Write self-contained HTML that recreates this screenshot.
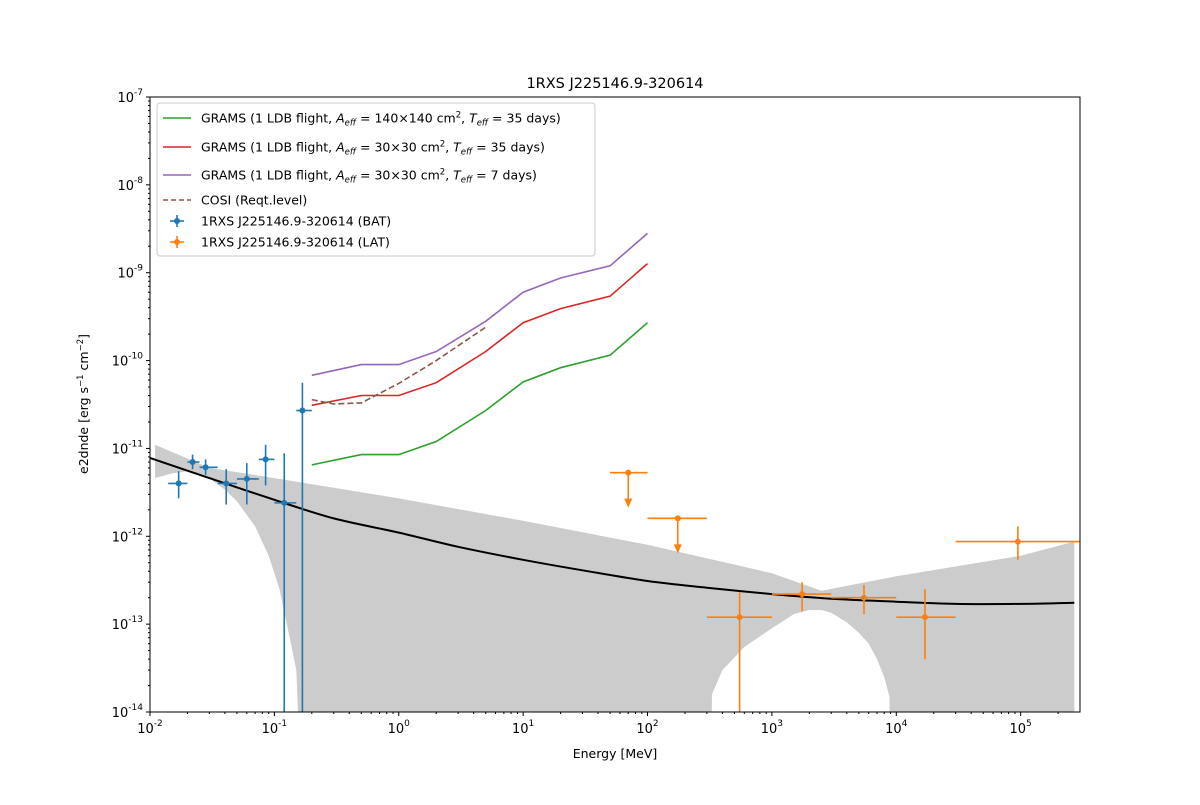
<!DOCTYPE html>
<html><head><meta charset="utf-8">
<style>
body{margin:0;background:#fff;}
svg text{font-family:"DejaVu Sans","Liberation Sans",sans-serif;}
</style></head>
<body>
<svg id="chart" width="1200" height="800" xmlns="http://www.w3.org/2000/svg"></svg>
<script>
// ---- data ----
const gramsX = [0.2,0.5,1,2,5,10,20,50,100];
const grams140 = [6.5e-12,8.5e-12,8.5e-12,1.2e-11,2.7e-11,5.7e-11,8.3e-11,1.15e-10,2.7e-10];
const grams30 = [3.1e-11,4e-11,4e-11,5.6e-11,1.27e-10,2.7e-10,3.9e-10,5.4e-10,1.27e-9];
const grams30w = [6.8e-11,9e-11,9e-11,1.27e-10,2.8e-10,6e-10,8.7e-10,1.2e-9,2.8e-9];
const cosiX = [0.2,0.3,0.5,1,2,5];
const cosiY = [3.6e-11,3.2e-11,3.3e-11,5.5e-11,1e-10,2.4e-10];
const batX = [0.017,0.022,0.028,0.041,0.06,0.085,0.12,0.168];
const batXlo = [0.014,0.02,0.025,0.035,0.05,0.075,0.1,0.15];
const batXhi = [0.02,0.025,0.035,0.05,0.075,0.1,0.15,0.2];
const batY = [4e-12,7e-12,6.1e-12,4e-12,4.5e-12,7.5e-12,2.4e-12,2.7e-11];
const batYlo = [2.7e-12,5.8e-12,5e-12,2.3e-12,2.3e-12,3.8e-12,1e-15,1e-15];
const batYhi = [5.5e-12,8.5e-12,7.5e-12,5.8e-12,6.8e-12,1.1e-11,8.8e-12,5.6e-11];
const latX = [550,1750,5500,17000,95000];
const latXlo = [300,1000,3000,10000,30000];
const latXhi = [1000,3000,10000,30000,3e5];
const latY = [1.2e-13,2.2e-13,2e-13,1.2e-13,8.7e-13];
const latYlo = [1e-15,1.4e-13,1.3e-13,4e-14,5.4e-13];
const latYhi = [2.3e-13,3e-13,2.8e-13,2.5e-13,1.3e-12];
const ulX = [70,175];
const ulXlo = [50,100];
const ulXhi = [100,300];
const ulY = [5.3e-12,1.6e-12];
const modelX = [0.01,0.03,0.1,0.3,1,3,10,30,100,300,1000,3000,1e4,3e4,1e5,2.7e5];
const modelY = [7.8e-12,4.6e-12,2.6e-12,1.6e-12,1.1e-12,7.6e-13,5.4e-13,4.1e-13,3.1e-13,2.6e-13,2.2e-13,1.95e-13,1.8e-13,1.7e-13,1.7e-13,1.75e-13];
const bandUpX = [0.011,0.03,0.1,1,10,100,1000,2500,1e4,1e5,2.7e5];
const bandUpY = [1.1e-11,6e-12,4.6e-12,2.7e-12,1.5e-12,8e-13,3.8e-13,2.4e-13,3.5e-13,6e-13,8.7e-13];
const bandLoX = [0.011,0.015,0.02,0.03,0.04,0.05,0.07,0.09,0.11,0.13,0.15,0.165,320,330,400,600,1000,1500,2000,2500,3000,4000,5000,6000,7000,8000,8800,9000,2.7e5];
const bandLoY = [4.6e-12,5.2e-12,5.5e-12,4.6e-12,3.4e-12,2.5e-12,1.3e-12,6e-13,2.5e-13,8e-14,3e-14,1e-15,1e-15,1.6e-14,3e-14,5.5e-14,9e-14,1.3e-13,1.45e-13,1.45e-13,1.35e-13,1.05e-13,8e-14,6e-14,4e-14,2.5e-14,1.5e-14,1e-15,1e-15];
const xTickExp = [-2,-1,0,1,2,3,4,5];
const yTickExp = [-14,-13,-12,-11,-10,-9,-8,-7];

// ---- axes ----
const L=150,R=1080,T=97,B=712;
const xmin=-2, xmax=Math.log10(3e5), ymin=-14, ymax=-7;
const sx=v=>L+(Math.log10(v)-xmin)/(xmax-xmin)*(R-L);
const sy=v=>B-(Math.log10(v)-ymin)/(ymax-ymin)*(B-T);
const NS="http://www.w3.org/2000/svg";
const svg=document.getElementById('chart');
function mk(tag,attrs,parent){const e=document.createElementNS(NS,tag);for(const k in attrs)e.setAttribute(k,attrs[k]);(parent||svg).appendChild(e);return e;}
const defs=mk('defs',{});
const cp=mk('clipPath',{id:'clip'},defs);mk('rect',{x:L,y:T,width:R-L,height:B-T},cp);
const g=mk('g',{'clip-path':'url(#clip)'});


const pts=(xs,ys)=>xs.map((x,i)=>sx(x).toFixed(1)+','+sy(Math.max(ys[i],1e-16)).toFixed(1)).join(' ');
function smoothPath(xs,ys){const P=xs.map((x,i)=>[sx(x),sy(ys[i])]);let d=`M${P[0][0]},${P[0][1]}`;
for(let i=0;i<P.length-1;i++){const p0=P[Math.max(i-1,0)],p1=P[i],p2=P[i+1],p3=P[Math.min(i+2,P.length-1)];
const c1=[p1[0]+(p2[0]-p0[0])/6,p1[1]+(p2[1]-p0[1])/6],c2=[p2[0]-(p3[0]-p1[0])/6,p2[1]-(p3[1]-p1[1])/6];
d+=` C${c1[0].toFixed(1)},${c1[1].toFixed(1)} ${c2[0].toFixed(1)},${c2[1].toFixed(1)} ${p2[0].toFixed(1)},${p2[1].toFixed(1)}`;}return d;}

const bandPts=pts(bandUpX,bandUpY)+' '+pts(bandLoX.slice().reverse(),bandLoY.slice().reverse());
const band=mk('polygon',{points:bandPts,fill:'#cccccc',stroke:'none'},g);


const model=mk('path',{d:smoothPath(modelX,modelY),fill:'none',stroke:'#000','stroke-width':2},g);



function line(xs,ys,col,name,dash){const e=mk('polyline',{points:pts(xs,ys),fill:'none',stroke:col,'stroke-width':1.6},g);if(dash)e.setAttribute('stroke-dasharray',dash);

}
line(gramsX,grams140,'#2ca02c','grams-140-line');
line(gramsX,grams30,'#d62728','grams-30-35d-line');
line(gramsX,grams30w,'#9467bd','grams-30-7d-line');
line(cosiX,cosiY,'#8c564b','cosi-line','6,3');

function errpts(xs,xl,xh,ys,yl,yh,col,name){xs.forEach((x,i)=>{const gg=mk('g',{},g);


mk('line',{x1:sx(xl[i]),x2:sx(xh[i]),y1:sy(ys[i]),y2:sy(ys[i]),stroke:col,'stroke-width':1.6},gg);
mk('line',{x1:sx(x),x2:sx(x),y1:sy(Math.max(yl[i],1e-16)),y2:sy(yh[i]),stroke:col,'stroke-width':1.6},gg);
mk('circle',{cx:sx(x),cy:sy(ys[i]),r:3,fill:col},gg);});}
errpts(batX,batXlo,batXhi,batY,batYlo,batYhi,'#1f77b4','bat-point');
errpts(latX,latXlo,latXhi,latY,latYlo,latYhi,'#ff7f0e','lat-point');
ulX.forEach((x,i)=>{const gg=mk('g',{},g);


const X=sx(x),Y=sy(ulY[i]);
mk('line',{x1:sx(ulXlo[i]),x2:sx(ulXhi[i]),y1:Y,y2:Y,stroke:'#ff7f0e','stroke-width':1.6},gg);
mk('line',{x1:X,x2:X,y1:Y,y2:Y+30,stroke:'#ff7f0e','stroke-width':1.6},gg);
mk('polygon',{points:`${X-4},${Y+26} ${X+4},${Y+26} ${X},${Y+35}`,fill:'#ff7f0e'},gg);
mk('circle',{cx:X,cy:Y,r:3,fill:'#ff7f0e'},gg);});

const fr=mk('rect',{x:L,y:T,width:R-L,height:B-T,fill:'none',stroke:'#000','stroke-width':1});


xTickExp.forEach(e=>{const X=sx(Math.pow(10,e));mk('line',{x1:X,x2:X,y1:B,y2:B+4,stroke:'#000'});
const t=mk('text',{x:X,y:B+21,'text-anchor':'middle','font-size':13});t.innerHTML=`10<tspan dy="-7" font-size="9">${e}</tspan>`;


for(let k=2;k<10;k++){const v=k*Math.pow(10,e);if(v<3e5){const x2=sx(v);mk('line',{x1:x2,x2:x2,y1:B,y2:B+2,stroke:'#000'});}}});
yTickExp.forEach(e=>{const Y=sy(Math.pow(10,e));mk('line',{x1:L-4,x2:L,y1:Y,y2:Y,stroke:'#000'});
const t=mk('text',{x:L-7,y:Y+5,'text-anchor':'end','font-size':13});t.innerHTML=`10<tspan dy="-7" font-size="9">${e}</tspan>`;


if(e<-7)for(let k=2;k<10;k++){const y2=sy(k*Math.pow(10,e));mk('line',{x1:L-2,x2:L,y1:y2,y2:y2,stroke:'#000'});}});
const title=mk('text',{x:615,y:88,'text-anchor':'middle','font-size':14.5});title.textContent='1RXS J225146.9-320614';


const xl=mk('text',{x:615,y:758,'text-anchor':'middle','font-size':12.5});xl.textContent='Energy [MeV]';


const yl=mk('text',{x:88,y:404,'text-anchor':'middle','font-size':12.5,transform:'rotate(-90 88 404)'});yl.innerHTML='e2dnde [erg s<tspan dy="-5" font-size="8.5">−1</tspan><tspan dy="5"> cm</tspan><tspan dy="-5" font-size="8.5">−2</tspan><tspan dy="5">]</tspan>';



const lg=mk('g',{});


mk('rect',{x:157,y:103,width:438,height:153,rx:3,fill:'#fff','fill-opacity':0.8,stroke:'#ccc'},lg);
const entries=[
['#2ca02c','',"GRAMS (1 LDB flight, <tspan font-style='italic'>A<tspan font-size='8.5' dy='3'>eff</tspan></tspan><tspan dy='-3'> = 140×140 cm</tspan><tspan font-size='8.5' dy='-5'>2</tspan><tspan dy='5'>, </tspan><tspan font-style='italic'>T<tspan font-size='8.5' dy='3'>eff</tspan></tspan><tspan dy='-3'> = 35 days)</tspan>",'line'],
['#d62728','',"GRAMS (1 LDB flight, <tspan font-style='italic'>A<tspan font-size='8.5' dy='3'>eff</tspan></tspan><tspan dy='-3'> = 30×30 cm</tspan><tspan font-size='8.5' dy='-5'>2</tspan><tspan dy='5'>, </tspan><tspan font-style='italic'>T<tspan font-size='8.5' dy='3'>eff</tspan></tspan><tspan dy='-3'> = 35 days)</tspan>",'line'],
['#9467bd','',"GRAMS (1 LDB flight, <tspan font-style='italic'>A<tspan font-size='8.5' dy='3'>eff</tspan></tspan><tspan dy='-3'> = 30×30 cm</tspan><tspan font-size='8.5' dy='-5'>2</tspan><tspan dy='5'>, </tspan><tspan font-style='italic'>T<tspan font-size='8.5' dy='3'>eff</tspan></tspan><tspan dy='-3'> = 7 days)</tspan>",'line'],
['#8c564b','5,3','COSI (Reqt.level)','line'],
['#1f77b4','','1RXS J225146.9-320614 (BAT)','pt'],
['#ff7f0e','','1RXS J225146.9-320614 (LAT)','pt']];
const ys=[118,147,175,200,221,242];
entries.forEach((en,i)=>{const y=ys[i];const eg=mk('g',{},lg);


if(en[3]==='line'){const l=mk('line',{x1:163,x2:191,y1:y,y2:y,stroke:en[0],'stroke-width':1.6},eg);if(en[1])l.setAttribute('stroke-dasharray',en[1]);}
else{mk('line',{x1:170,x2:184,y1:y,y2:y,stroke:en[0],'stroke-width':1.6},eg);mk('line',{x1:177,x2:177,y1:y-6,y2:y+6,stroke:en[0],'stroke-width':1.6},eg);mk('circle',{cx:177,cy:y,r:3,fill:en[0]},eg);}
const t=mk('text',{x:201,y:y+4.5,'font-size':12.5},eg);t.innerHTML=en[2];});
</script>
</body></html>
